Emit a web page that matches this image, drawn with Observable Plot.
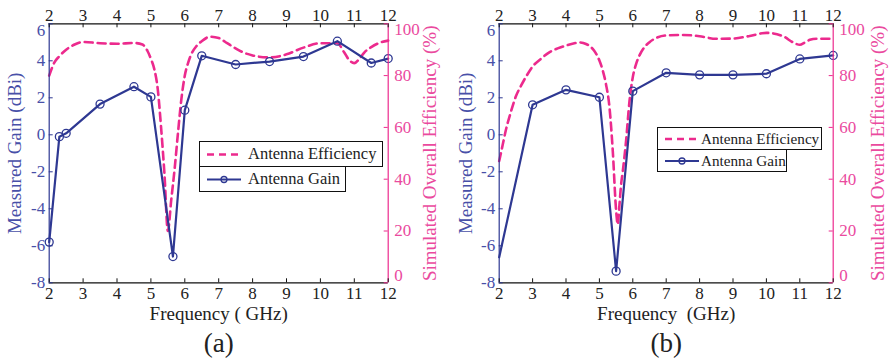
<!DOCTYPE html>
<html>
<head>
<meta charset="utf-8">
<script src="https://cdn.jsdelivr.net/npm/d3@7"></script>
<script src="https://cdn.jsdelivr.net/npm/@observablehq/plot@0.6"></script>
<style>
  body { margin: 0; background: white; }
  #wrap { position: relative; width: 894px; height: 361px; overflow: hidden; font-family: "Liberation Serif", serif; }
  #wrap svg text { font-family: "Liberation Serif", serif !important; }
  .panel { position: absolute; top: 0; }
  .lg { position: absolute; border: 1px solid #111; background: white; box-sizing: border-box; color: #222; }
  .lg svg { position: absolute; left: 0; top: 0; }
  .lg span { position: absolute; white-space: nowrap; line-height: 1; }
</style>
</head>
<body>
<div id="wrap"></div>
<script>
// ---------------- data ----------------
const freqTicks = [2, 3, 4, 5, 6, 7, 8, 9, 10, 11, 12];
const gainTicks = [-8, -6, -4, -2, 0, 2, 4, 6];
const effTicks = [0, 20, 40, 60, 80, 100];

// panel (a)
const gainFreqA = [2, 2.3, 2.5, 3.5, 4.5, 5, 5.65, 6, 6.5, 7.5, 8.5, 9.5, 10.5, 11.5, 12];
const gainA = [-5.8, -0.1, 0.08, 1.66, 2.6, 2.05, -6.58, 1.33, 4.27, 3.8, 3.96, 4.23, 5.06, 3.88, 4.12];
const effFreqA = [2, 2.15, 2.3, 2.5, 2.75, 3, 3.5, 4, 4.5, 4.75, 4.9, 5, 5.1, 5.2, 5.3, 5.4, 5.5, 5.6, 5.7, 5.8, 5.9, 6, 6.1, 6.2, 6.35, 6.5, 6.75, 7, 7.25, 7.5, 7.75, 8, 8.5, 9, 9.5, 10, 10.5, 10.7, 10.85, 11, 11.15, 11.3, 11.5, 11.75, 12];
const effA = [80, 85, 87.5, 90, 92, 93, 92.5, 92.3, 92.6, 92, 89.5, 86.5, 82.5, 75, 60, 42, 20, 32, 44, 58, 71, 80, 85, 88.5, 91.5, 93.3, 95, 94.5, 92.5, 90.5, 88.8, 87.8, 87, 88.2, 90.8, 92.5, 92.5, 89, 86, 84.8, 86.5, 89, 91, 92.7, 93.5];

// panel (b)
const gainFreqB = [2, 3, 4, 5, 5.5, 6, 7, 8, 9, 10, 11, 12];
const gainB = [-6.62, 1.62, 2.43, 2.03, -7.37, 2.36, 3.35, 3.24, 3.24, 3.3, 4.1, 4.29];
const effFreqB = [2, 2.1, 2.2, 2.35, 2.5, 2.65, 2.8, 3, 3.25, 3.5, 3.75, 4, 4.25, 4.4, 4.6, 4.8, 4.9, 5, 5.1, 5.2, 5.3, 5.4, 5.5, 5.55, 5.6, 5.65, 5.7, 5.8, 5.9, 6, 6.1, 6.2, 6.35, 6.5, 6.75, 7, 7.5, 8, 8.5, 9, 9.5, 10, 10.5, 10.8, 11, 11.15, 11.3, 11.5, 12];
const effB = [47, 53, 59, 66, 72, 76, 79.5, 83.5, 86.5, 89, 90.5, 91.6, 92.5, 92.8, 92.2, 90.3, 88.5, 85.8, 82, 76.5, 68, 51, 28, 22.5, 30, 38, 43, 55, 70, 79.4, 84.5, 87.8, 91, 92.9, 94.8, 95.5, 95.7, 95.2, 94.2, 94.3, 95.3, 96.5, 95.2, 92.8, 91.9, 92.8, 93.8, 94.2, 94.2];

// ---------------- style ----------------
const BLUE = "#2e3892";
const BLUE_TXT = "#4850a8";
const PINK = "#ec2a8d";
const PINK_TXT = "#ea4a9e";
const FONT = "Liberation Serif";

const toG = e => -8 + e * 14 / 100;   // efficiency % -> position on the gain scale
const toE = g => String(Math.round((g + 8) * 100 / 14));
const fmt = d => String(d);

function panel({gf, gv, ef, ev, markFrom, xLabel, caption, ml, mr, dxL, dxR}) {
  const W = 447, H = 361, mt = 23.3, mb = 78.7;
  const fw = W - ml - mr, fh = H - mt - mb;
  const gain = gf.map((f, i) => ({f, g: gv[i], i}));
  const eff = ef.map((f, i) => ({f, e: ev[i]}));
  const txt = {textAnchor: "middle", lineAnchor: "middle", fontFamily: FONT};
  const ax = {tickSize: 0, label: null, fontSize: 17, fontFamily: FONT};
  const effMid = effTicks.filter(e => e > 0 && e < 100);
  const gainMid = gainTicks.filter(g => g < 6);
  return Plot.plot({
    width: W, height: H,
    marginLeft: ml, marginRight: mr, marginTop: mt, marginBottom: mb,
    style: {fontFamily: FONT, fontSize: "16px", background: "white", overflow: "visible"},
    x: {domain: [2, 12]},
    y: {domain: [-8, 6]},
    marks: [
      Plot.line(eff, {x: "f", y: d => toG(d.e), stroke: PINK, strokeWidth: 2.6, strokeDasharray: "8,5", curve: "monotone-x"}),
      Plot.line(gain, {x: "f", y: "g", stroke: BLUE, strokeWidth: 2.2}),
      Plot.dot(gain.filter(d => d.i >= markFrom), {x: "f", y: "g", r: 4, stroke: BLUE, strokeWidth: 1.3, fill: "none"}),
      // frame
      Plot.ruleY([-8], {stroke: "#111", strokeWidth: 1.2}),
      Plot.ruleY([6], {stroke: "#111", strokeWidth: 1.2}),
      Plot.ruleX([2], {stroke: BLUE, strokeWidth: 1.2}),
      Plot.ruleX([12], {stroke: PINK, strokeWidth: 1.2}),
      // inward tick marks
      Plot.ruleX(freqTicks, {insetTop: fh - 4, stroke: "#111"}),
      Plot.ruleX(freqTicks, {insetBottom: fh - 4, stroke: "#111"}),
      Plot.ruleY(gainTicks, {insetRight: fw - 4, stroke: BLUE}),
      Plot.ruleY(effTicks.map(toG), {insetLeft: fw - 4, stroke: PINK}),
      // tick labels
      Plot.axisX({...ax, anchor: "bottom", ticks: freqTicks, tickFormat: fmt, tickPadding: 4, color: "#222"}),
      Plot.axisX({...ax, anchor: "top", ticks: freqTicks, tickFormat: fmt, tickPadding: 3, color: "#222"}),
      Plot.axisY({...ax, anchor: "left", ticks: gainMid, tickFormat: fmt, tickPadding: 4, color: BLUE_TXT}),
      Plot.axisY({...ax, anchor: "left", ticks: [6], tickFormat: fmt, tickPadding: 4, color: BLUE_TXT, dy: 7}),
      Plot.axisY({...ax, anchor: "right", ticks: effMid.map(toG), tickFormat: toE, tickPadding: 6, color: PINK_TXT}),
      Plot.axisY({...ax, anchor: "right", ticks: [toG(100)], tickFormat: toE, tickPadding: 6, color: PINK_TXT, dy: 6}),
      Plot.axisY({...ax, anchor: "right", ticks: [toG(0)], tickFormat: toE, tickPadding: 6, color: PINK_TXT, dy: -7}),
      // titles
      Plot.text([xLabel], {frameAnchor: "bottom", dy: 31, text: d => d, fontSize: 19, fill: "#222", ...txt}),
      Plot.text([caption], {frameAnchor: "bottom", dy: 61, text: d => d, fontSize: 27, fill: "#222", ...txt}),
      Plot.text(["Measured Gain (dBi)"], {frameAnchor: "left", dx: dxL, rotate: -90, text: d => d, fontSize: 19, fill: BLUE_TXT, ...txt}),
      Plot.text(["Simulated Overall Efficiency (%)"], {frameAnchor: "right", dx: dxR, rotate: -90, text: d => d, fontSize: 19, fill: PINK_TXT, ...txt})
    ]
  });
}

const wrap = document.getElementById("wrap");

const pa = panel({gf: gainFreqA, gv: gainA, ef: effFreqA, ev: effA, markFrom: 0,
  xLabel: "Frequency ( GHz)", caption: "(a)", ml: 48.7, mr: 59.3, dxL: -34, dxR: 42});
const pb = panel({gf: gainFreqB, gv: gainB, ef: effFreqB, ev: effB, markFrom: 1,
  xLabel: "Frequency\u00a0 (GHz)", caption: "(b)", ml: 51.7, mr: 61.3, dxL: -33, dxR: 45});

const da = document.createElement("div"); da.className = "panel"; da.style.left = "0px"; da.appendChild(pa);
const db = document.createElement("div"); db.className = "panel"; db.style.left = "447px"; db.appendChild(pb);
wrap.appendChild(da); wrap.appendChild(db);

// legends
function legendBox(left, top, w, h, kind, label, textLeft, fs) {
  const box = document.createElement("div");
  box.className = "lg";
  Object.assign(box.style, {left: left + "px", top: top + "px", width: w + "px", height: h + "px", fontSize: fs + "px"});
  const ns = "http://www.w3.org/2000/svg";
  const s = document.createElementNS(ns, "svg");
  s.setAttribute("width", w); s.setAttribute("height", h);
  const cy = h / 2 - 0.5;
  const ln = document.createElementNS(ns, "line");
  ln.setAttribute("x1", 7); ln.setAttribute("x2", 41); ln.setAttribute("y1", cy); ln.setAttribute("y2", cy);
  if (kind === "eff") {
    ln.setAttribute("stroke", PINK); ln.setAttribute("stroke-width", 2.6); ln.setAttribute("stroke-dasharray", "7,5");
    s.appendChild(ln);
  } else {
    ln.setAttribute("stroke", BLUE); ln.setAttribute("stroke-width", 2.2);
    s.appendChild(ln);
    const c = document.createElementNS(ns, "circle");
    c.setAttribute("cx", 24); c.setAttribute("cy", cy); c.setAttribute("r", 3);
    c.setAttribute("fill", "none"); c.setAttribute("stroke", BLUE); c.setAttribute("stroke-width", 1.3);
    s.appendChild(c);
  }
  box.appendChild(s);
  const t = document.createElement("span");
  t.textContent = label;
  Object.assign(t.style, {left: textLeft + "px", top: (h / 2 - fs * 0.55) + "px"});
  box.appendChild(t);
  wrap.appendChild(box);
}
legendBox(199, 141, 184, 26, "eff", "Antenna Efficiency", 48, 16.5);
legendBox(199, 166, 147, 26, "gain", "Antenna Gain", 48, 16.5);
legendBox(657, 127, 165, 23, "eff", "Antenna Efficiency", 43, 15.2);
legendBox(657, 149, 130, 23, "gain", "Antenna Gain", 43, 15.2);
</script>
</body>
</html>
